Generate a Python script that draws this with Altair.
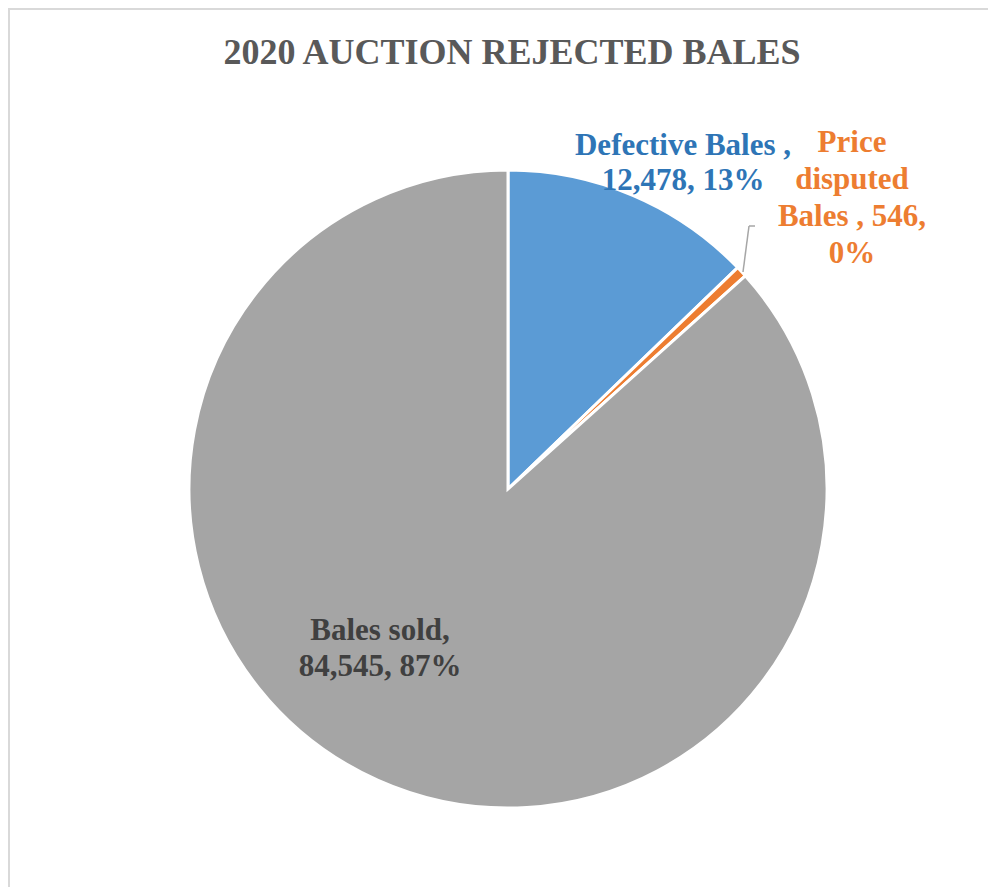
import altair as alt
import pandas as pd

categories = ["Defective Bales", "Price disputed Bales", "Bales sold"]
values = [12478, 546, 84545]
percents = ["13%", "0%", "87%"]
colors = ["#5B9BD5", "#ED7D31", "#A5A5A5"]
title_text = "2020 AUCTION REJECTED BALES"

df = pd.DataFrame({"category": categories, "value": values, "order": [0, 1, 2]})

W, H = 980, 879
CX, CY, R = 500, 481, 319
SERIF = "Liberation Serif"

pie = alt.Chart(df).mark_arc(radius=R, stroke="white", strokeWidth=3).encode(
    theta=alt.Theta("value:Q", stack=True),
    order=alt.Order("order:Q"),
    color=alt.Color("category:N", scale=alt.Scale(domain=categories, range=colors), legend=None),
    x=alt.value(CX),
    y=alt.value(CY),
)

def fmt(v):
    return f"{v:,}"

def text_layer(lines, x, y, color, line_height, size=31):
    return alt.Chart(pd.DataFrame({"t": [0]})).mark_text(
        text=lines, font=SERIF, fontWeight="bold", fontSize=size, color=color,
        align="center", baseline="middle", lineHeight=line_height,
    ).encode(x=alt.value(x), y=alt.value(y))

lbl_def = text_layer([f"{categories[0]} ,", f"{fmt(values[0])}, {percents[0]}"], 675, 138, "#2E75B6", 35)
lbl_price = text_layer(["Price", "disputed", f"Bales , {values[1]},", percents[1]], 844, 135, "#ED7D31", 37)
lbl_sold = text_layer(["Bales sold,", f"{fmt(values[2])}, {percents[2]}"], 372, 623, "#404040", 36)

title = alt.Chart(pd.DataFrame({"t": [0]})).mark_text(
    text=title_text, font=SERIF, fontWeight="bold", fontSize=36, color="#595959",
    align="center", baseline="middle",
).encode(x=alt.value(504), y=alt.value(45))

lead1 = alt.Chart(pd.DataFrame({"t": [0]})).mark_rule(color="#A6A6A6", strokeWidth=1.5).encode(
    x=alt.value(735), y=alt.value(264), x2=alt.value(741), y2=alt.value(218))
lead2 = alt.Chart(pd.DataFrame({"t": [0]})).mark_rule(color="#A6A6A6", strokeWidth=1.5).encode(
    x=alt.value(741), y=alt.value(218), x2=alt.value(747), y2=alt.value(218))

border_l = alt.Chart(pd.DataFrame({"t": [0]})).mark_rule(color="#D9D9D9", strokeWidth=2).encode(
    x=alt.value(1), y=alt.value(0), y2=alt.value(H))
border_t = alt.Chart(pd.DataFrame({"t": [0]})).mark_rule(color="#D9D9D9", strokeWidth=2).encode(
    x=alt.value(0), x2=alt.value(W), y=alt.value(1))

chart = alt.layer(border_l, border_t, pie, lead1, lead2, lbl_def, lbl_price, lbl_sold, title).properties(
    width=W, height=H, autosize=alt.AutoSizeParams(type="none"), padding=0,
).configure_view(stroke=None).configure(background="white")

chart.save("out.html", embed_options={"renderer": "svg", "actions": False})
